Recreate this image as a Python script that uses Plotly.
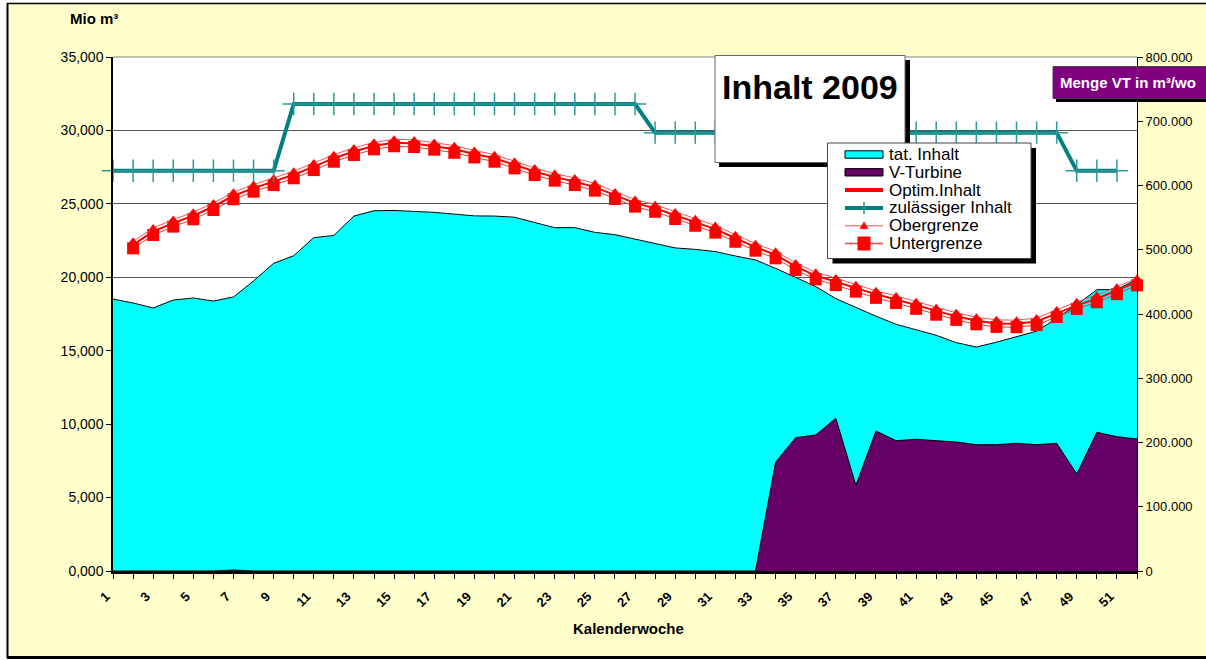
import plotly.graph_objects as go

# ---------------- data ----------------
weeks = list(range(1, 53))

tat_inhalt = [18520, 18250, 17910, 18450, 18590, 18380, 18660, 19750, 20950, 21470,
              22700, 22850, 24170, 24530, 24550, 24500, 24420, 24300, 24180, 24170,
              24090, 23730, 23380, 23380, 23060, 22900, 22600, 22300, 22000, 21900,
              21750, 21450, 21180, 20610, 19980, 19370, 18550, 17930, 17350, 16800,
              16400, 16050, 15550, 15250, 15580, 15930, 16330, 17200, 18130, 19150,
              19180, 19850]

v_turbine = [0, 0, 0, 0, 0, 0, 1500, 0, 0, 0,
             0, 0, 0, 0, 0, 0, 0, 0, 0, 0,
             0, 0, 0, 0, 0, 0, 0, 0, 0, 0,
             0, 0, 0, 169200, 207500, 211700, 237600, 133400, 217900, 202800,
             205000, 202800, 200700, 196600, 196600, 198700, 196600, 198700, 151000, 215800,
             209100, 205400]

untergrenze = [None, 21970, 22880, 23450, 23950, 24580, 25310, 25830, 26280, 26740,
               27300, 27870, 28330, 28710, 28920, 28870, 28690, 28480, 28160, 27870,
               27420, 26960, 26580, 26280, 25900, 25330, 24810, 24460, 23970, 23510,
               23040, 22420, 21810, 21290, 20500, 19860, 19470, 19020, 18600, 18250,
               17850, 17450, 17100, 16800, 16620, 16600, 16750, 17300, 17850, 18300,
               18850, 19450]

optim_inhalt = [None, 22210, 23120, 23690, 24190, 24820, 25550, 26070, 26520, 26980,
                27540, 28110, 28570, 28950, 29160, 29110, 28930, 28720, 28400, 28110,
                27660, 27200, 26820, 26520, 26140, 25570, 25050, 24700, 24210, 23750,
                23280, 22660, 22050, 21530, 20740, 20100, 19710, 19260, 18840, 18490,
                18090, 17690, 17340, 17040, 16860, 16840, 16990, 17540, 18090, 18540,
                19090, 19690]

obergrenze = [None, 22450, 23360, 23930, 24430, 25060, 25790, 26310, 26760, 27220,
              27780, 28350, 28810, 29190, 29400, 29350, 29170, 28960, 28640, 28350,
              27900, 27440, 27060, 26760, 26380, 25810, 25290, 24940, 24450, 23990,
              23520, 22900, 22290, 21770, 20980, 20340, 19950, 19500, 19080, 18730,
              18330, 17930, 17580, 17280, 17100, 17080, 17230, 17780, 18330, 18780,
              19330, 19930]

zulaessig = [27250, 27250, 27250, 27250, 27250, 27250, 27250, 27250, 27250, 31800,
             31800, 31800, 31800, 31800, 31800, 31800, 31800, 31800, 31800, 31800,
             31800, 31800, 31800, 31800, 31800, 31800, 31800, 29850, 29850, 29850,
             29850, 29850, 29850, 29850, 29850, 29850, 29850, 29850, 29850, 29850,
             29850, 29850, 29850, 29850, 29850, 29850, 29850, 29850, 27250, 27250,
             27250, None]

x_ticktext = [f"<b>{w}</b>" if w % 2 == 1 else "" for w in weeks]
y_tickvals = [0, 5000, 10000, 15000, 20000, 25000, 30000, 35000]
y_ticktext = ["0,000", "5,000", "10,000", "15,000", "20,000", "25,000", "30,000", "35,000"]
y2_tickvals = [0, 100000, 200000, 300000, 400000, 500000, 600000, 700000, 800000]
y2_ticktext = ["0", "100.000", "200.000", "300.000", "400.000", "500.000", "600.000", "700.000", "800.000"]

legend_names = ["tat. Inhalt", "V-Turbine", "Optim.Inhalt", "zulässiger Inhalt", "Obergrenze", "Untergrenze"]

# ---------------- layout geometry ----------------
W, H = 1206, 660
L, R, T, B = 113, 1137, 57, 571
FONT = "Liberation Sans, Arial, sans-serif"
CYAN = "#00FFFF"
PURPLE = "#660066"
RED = "#FF0000"
TEAL = "#008080"


def px(x):
    return (x - L) / (R - L)


def py(y):
    return (B - y) / (B - T)


fig = go.Figure()

fig.add_trace(go.Scatter(x=weeks, y=tat_inhalt, mode="lines", fill="tozeroy",
                         fillcolor=CYAN, line=dict(color="black", width=1),
                         name=legend_names[0], showlegend=False))
fig.add_trace(go.Scatter(x=weeks, y=untergrenze, mode="lines+markers",
                         line=dict(color="#FF3030", width=1),
                         marker=dict(symbol="square", size=12, color=RED),
                         cliponaxis=False,
                         name=legend_names[5], showlegend=False))
fig.add_trace(go.Scatter(x=weeks, y=obergrenze, mode="lines+markers",
                         line=dict(color="#FF5050", width=1),
                         marker=dict(symbol="triangle-up", size=8, color=RED),
                         cliponaxis=False,
                         name=legend_names[4], showlegend=False))
fig.add_trace(go.Scatter(x=weeks, y=optim_inhalt, mode="lines",
                         line=dict(color=RED, width=2),
                         name=legend_names[2], showlegend=False))
fig.add_trace(go.Scatter(x=weeks, y=zulaessig, mode="lines+markers",
                         line=dict(color=TEAL, width=4),
                         marker=dict(symbol="cross-thin", size=16,
                                     line=dict(color="#2E9999", width=1.5)),
                         cliponaxis=False,
                         name=legend_names[3], showlegend=False))
fig.add_trace(go.Scatter(x=weeks, y=v_turbine, mode="lines", fill="tozeroy",
                         fillcolor=PURPLE, line=dict(color="black", width=1),
                         yaxis="y2", name=legend_names[1], showlegend=False))

shapes = []
annotations = []

# outer frame (white outside, black border)
shapes += [
    dict(type="rect", xref="paper", yref="paper", x0=px(0), x1=px(7), y0=py(0), y1=py(H),
         fillcolor="white", line=dict(width=0), layer="above"),
    dict(type="rect", xref="paper", yref="paper", x0=px(0), x1=px(W), y0=py(0), y1=py(3),
         fillcolor="white", line=dict(width=0), layer="above"),
    dict(type="rect", xref="paper", yref="paper", x0=px(0), x1=px(W), y0=py(659), y1=py(H),
         fillcolor="white", line=dict(width=0), layer="above"),
    dict(type="line", xref="paper", yref="paper", x0=px(7), x1=px(W), y0=py(3.5), y1=py(3.5),
         line=dict(color="black", width=1.5), layer="above"),
    dict(type="line", xref="paper", yref="paper", x0=px(7.5), x1=px(7.5), y0=py(3), y1=py(658),
         line=dict(color="black", width=2), layer="above"),
    dict(type="line", xref="paper", yref="paper", x0=px(7), x1=px(W), y0=py(657.5), y1=py(657.5),
         line=dict(color="black", width=3), layer="above"),
    # top border of plot area
    dict(type="line", xref="paper", yref="paper", x0=0, x1=1, y0=1, y1=1,
         line=dict(color="#808080", width=1), layer="above"),
]

# title box "Inhalt 2009"
shapes += [
    dict(type="rect", xref="paper", yref="paper", x0=px(719), x1=px(910), y0=py(60), y1=py(167),
         fillcolor="black", line=dict(width=0), layer="above"),
    dict(type="rect", xref="paper", yref="paper", x0=px(715), x1=px(905), y0=py(55.5), y1=py(162.5),
         fillcolor="white", line=dict(color="#666666", width=1), layer="above"),
]
annotations.append(dict(text="<b>Inhalt 2009</b>", xref="paper", yref="paper",
                        x=px(810), y=py(87), xanchor="center", yanchor="middle",
                        showarrow=False, font=dict(family=FONT, size=34, color="black")))

# purple box "Menge VT in m³/wo"
shapes += [
    dict(type="rect", xref="paper", yref="paper", x0=px(1056), x1=px(1215), y0=py(70), y1=py(102),
         fillcolor="black", line=dict(width=0), layer="above"),
    dict(type="rect", xref="paper", yref="paper", x0=px(1053), x1=px(1215), y0=py(66.5), y1=py(98.5),
         fillcolor="#800080", line=dict(color="#444444", width=1), layer="above"),
]
annotations.append(dict(text="<b>Menge VT in m³/wo</b>", xref="paper", yref="paper",
                        x=px(1058), y=py(82), xanchor="left", yanchor="middle",
                        showarrow=False, font=dict(family=FONT, size=15, color="white")))

# custom legend
LX0, LX1, LY0, LY1 = 827.5, 1031, 143, 258.5
shapes += [
    dict(type="rect", xref="paper", yref="paper", x0=px(LX0 + 5), x1=px(LX1 + 5), y0=py(LY0 + 5), y1=py(LY1 + 5),
         fillcolor="black", line=dict(width=0), layer="above"),
    dict(type="rect", xref="paper", yref="paper", x0=px(LX0), x1=px(LX1), y0=py(LY0), y1=py(LY1),
         fillcolor="white", line=dict(color="#444444", width=1), layer="above"),
]
rows = [154.5, 172.3, 190.1, 207.9, 225.7, 243.5]
sx0, sx1, sxc = 845, 883, 864
for i, col in [(0, CYAN), (1, PURPLE)]:
    shapes.append(dict(type="rect", xref="paper", yref="paper", x0=px(sx0), x1=px(sx1),
                       y0=py(rows[i] - 3.7), y1=py(rows[i] + 3.7),
                       fillcolor=col, line=dict(color="black", width=1), layer="above"))
shapes.append(dict(type="line", xref="paper", yref="paper", x0=px(sx0), x1=px(sx1),
                   y0=py(rows[2]), y1=py(rows[2]), line=dict(color=RED, width=4), layer="above"))
shapes.append(dict(type="line", xref="paper", yref="paper", x0=px(sx0), x1=px(sx1),
                   y0=py(rows[3]), y1=py(rows[3]), line=dict(color=TEAL, width=4), layer="above"))
shapes.append(dict(type="line", xref="paper", yref="paper", x0=px(sxc), x1=px(sxc),
                   y0=py(rows[3] - 6), y1=py(rows[3] + 6), line=dict(color="#2E9999", width=1.5), layer="above"))
shapes.append(dict(type="line", xref="paper", yref="paper", x0=px(sx0), x1=px(sx1),
                   y0=py(rows[4]), y1=py(rows[4]), line=dict(color="#FF8080", width=1.5), layer="above"))
tri = (f"M {px(sxc - 4)},{py(rows[4] + 3)} L {px(sxc + 4)},{py(rows[4] + 3)} "
       f"L {px(sxc)},{py(rows[4] - 4)} Z")
shapes.append(dict(type="path", xref="paper", yref="paper", path=tri,
                   fillcolor=RED, line=dict(color=RED, width=0.5), layer="above"))
shapes.append(dict(type="line", xref="paper", yref="paper", x0=px(sx0), x1=px(sx1),
                   y0=py(rows[5]), y1=py(rows[5]), line=dict(color="#FF4040", width=1.5), layer="above"))
shapes.append(dict(type="rect", xref="paper", yref="paper", x0=px(sxc - 6.5), x1=px(sxc + 6.5),
                   y0=py(rows[5] - 7), y1=py(rows[5] + 7),
                   fillcolor=RED, line=dict(width=0), layer="above"))
for i, name in enumerate(legend_names):
    annotations.append(dict(text=name, xref="paper", yref="paper", x=px(887), y=py(rows[i]),
                            xanchor="left", yanchor="middle", showarrow=False,
                            font=dict(family=FONT, size=17, color="black")))

# axis titles
annotations.append(dict(text="<b>Mio m³</b>", xref="paper", yref="paper", x=px(94), y=py(18),
                        xanchor="center", yanchor="middle", showarrow=False,
                        font=dict(family=FONT, size=15, color="black")))
annotations.append(dict(text="<b>Kalenderwoche</b>", xref="paper", yref="paper", x=px(628), y=py(628),
                        xanchor="center", yanchor="middle", showarrow=False,
                        font=dict(family=FONT, size=15, color="black")))

fig.update_layout(
    width=W, height=H,
    margin=dict(l=L, r=W - R, t=T, b=H - B, pad=0),
    paper_bgcolor="#FFFFCC",
    plot_bgcolor="white",
    font=dict(family=FONT, color="black"),
    showlegend=False,
    shapes=shapes,
    annotations=annotations,
    xaxis=dict(range=[1, 52], tickmode="array", tickvals=weeks, ticktext=x_ticktext,
               tickangle=-45, tickfont=dict(family=FONT, size=13, color="black"),
               ticklabelstandoff=5, ticklabelshift=-7,
               ticks="outside", ticklen=5, tickcolor="black", tickwidth=1,
               showline=True, linecolor="black", linewidth=2.5,
               showgrid=False, zeroline=False),
    yaxis=dict(range=[0, 35000], tickmode="array", tickvals=y_tickvals, ticktext=y_ticktext,
               tickfont=dict(family=FONT, size=14, color="black"),
               ticks="outside", ticklen=5, tickcolor="black",
               showline=True, linecolor="black", linewidth=1.5,
               showgrid=True, gridcolor="#555555", gridwidth=1, zeroline=False),
    yaxis2=dict(range=[0, 800000], overlaying="y", side="right", tickmode="array",
                tickvals=y2_tickvals, ticktext=y2_ticktext,
                tickfont=dict(family=FONT, size=13, color="black"),
                ticks="outside", ticklen=5, tickcolor="black",
                showline=True, linecolor="black", linewidth=1,
                showgrid=False, zeroline=False),
)

fig.write_html("out.html", config={"displayModeBar": False},
               post_script="document.body.style.margin='0px';document.body.style.overflow='hidden';")
